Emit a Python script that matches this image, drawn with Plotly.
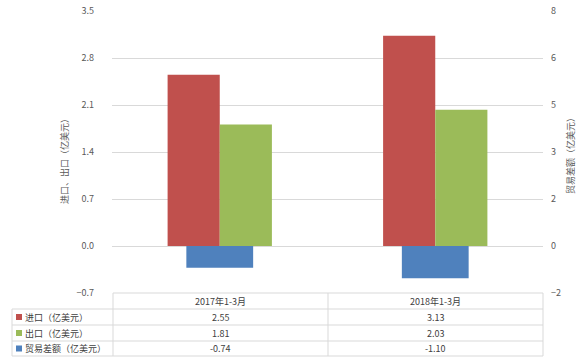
import plotly.graph_objects as go

categories = ["2017年1-3月", "2018年1-3月"]
import_vals = [2.55, 3.13]
export_vals = [1.81, 2.03]
balance_vals = [-0.74, -1.10]
series_names = ["进口（亿美元）", "出口（亿美元）", "贸易差额（亿美元）"]
colors = ["#C0504D", "#9BBB59", "#4F81BD"]
left_title = "进口、出口（亿美元）"
right_title = "贸易差额（亿美元）"

W, H = 583, 357
L, R, T, B = 112, 40, 11, 64
PW, PH = W - L - R, H - T - B

def xp(px):
    return (px - L) / PW

def yp(py):
    return (H - B - py) / PH

FONT = "Noto Sans CJK SC, Noto Sans, sans-serif"
TXT = "#595959"

fig = go.Figure()
fig.add_trace(go.Bar(x=categories, y=import_vals, name=series_names[0], marker_color=colors[0],
                     width=0.242, offset=-0.242, marker_line_width=0))
fig.add_trace(go.Bar(x=categories, y=export_vals, name=series_names[1], marker_color=colors[1],
                     width=0.242, offset=0.0, marker_line_width=0))
fig.add_trace(go.Bar(x=categories, y=balance_vals, name=series_names[2], marker_color=colors[2],
                     width=0.31, offset=-0.155, marker_line_width=0, yaxis="y2"))

fig.update_layout(
    width=W, height=H, margin=dict(l=L, r=R, t=T, b=B, autoexpand=False),
    paper_bgcolor="white", plot_bgcolor="white",
    barmode="overlay", showlegend=False,
    font=dict(family=FONT, size=9, color=TXT),
    xaxis=dict(showticklabels=False, showgrid=False, zeroline=False, showline=False, ticks="",
               range=[-0.5, 1.5], automargin=False),
    yaxis=dict(range=[-0.7, 3.5], dtick=0.7, tick0=0, tickformat=".1f", showgrid=True,
               gridcolor="#D9D9D9", gridwidth=1, zeroline=True, zerolinecolor="#D9D9D9",
               zerolinewidth=1, showline=False, ticks="", ticklabelstandoff=17, automargin=False),
    yaxis2=dict(range=[-1.6, 8.0], dtick=1.6, tick0=0, tickformat=".0f", overlaying="y",
                side="right", showgrid=False, zeroline=False, showline=False, ticks="",
                ticklabelstandoff=7, automargin=False),
)

line = dict(color="#D9D9D9", width=1)
shapes = []
col_x = [113, 328, 543]
row_y = [293, 309, 325, 341, 356]
shapes.append(dict(type="line", xref="paper", yref="paper", x0=xp(113), x1=xp(543), y0=yp(293), y1=yp(293), line=line))
for yy in row_y[1:]:
    shapes.append(dict(type="line", xref="paper", yref="paper", x0=xp(12), x1=xp(543), y0=yp(yy), y1=yp(yy), line=line))
for xx in col_x:
    shapes.append(dict(type="line", xref="paper", yref="paper", x0=xp(xx), x1=xp(xx), y0=yp(293), y1=yp(356), line=line))
shapes.append(dict(type="line", xref="paper", yref="paper", x0=xp(12), x1=xp(12), y0=yp(309), y1=yp(356), line=line))

def ann(x, y, text, xanchor="center", angle=0, color="#404040"):
    return dict(x=x, y=y, xref="paper", yref="paper", text=text, textangle=angle,
                showarrow=False, xanchor=xanchor, yanchor="middle", font=dict(size=9, color=color))

anns = []
anns.append(ann(xp(64), yp(159), left_title, angle=-90, color=TXT))
anns.append(ann(xp(570), yp(154), right_title, angle=-90, color=TXT))
centers = [(col_x[i] + col_x[i + 1]) / 2 for i in range(2)]
for i, c in enumerate(categories):
    anns.append(ann(xp(centers[i]), yp(301), c))
all_vals = [import_vals, export_vals, balance_vals]
for r, vals in enumerate(all_vals):
    ymid = (row_y[r + 1] + row_y[r + 2]) / 2
    shapes.append(dict(type="rect", xref="paper", yref="paper", x0=xp(16), x1=xp(22),
                       y0=yp(ymid + 3), y1=yp(ymid - 3), fillcolor=colors[r], line=dict(width=0)))
    anns.append(ann(xp(23), yp(ymid), series_names[r], xanchor="left"))
    for i, v in enumerate(vals):
        anns.append(ann(xp(centers[i]), yp(ymid), f"{v:.2f}"))

fig.update_layout(shapes=shapes, annotations=anns)
fig.write_html("out.html", config={"displayModeBar": False},
               post_script="document.body.style.margin='0';document.body.style.padding='0';")
